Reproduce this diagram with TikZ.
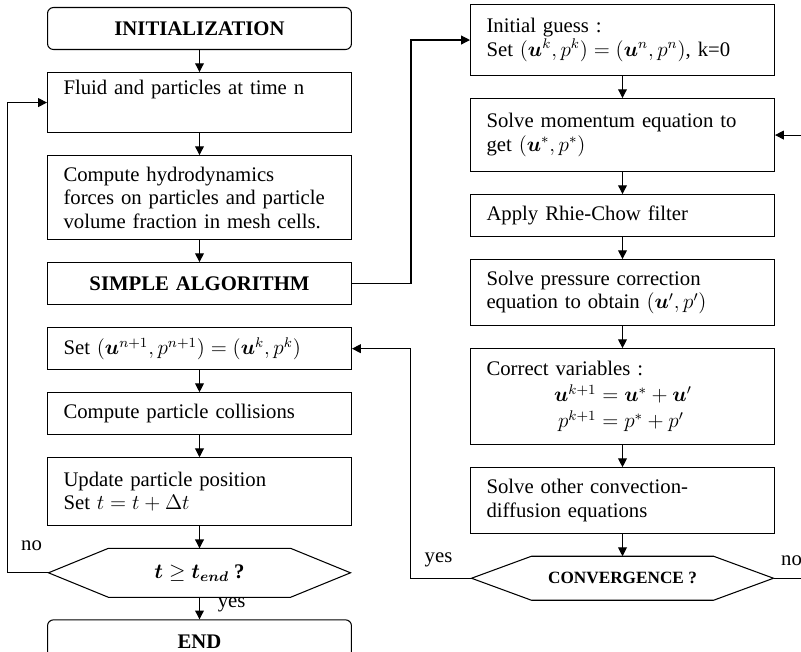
\documentclass[tikz,border=0pt]{standalone}
\usepackage{amsmath}
\usepackage{amssymb}
\usepackage{fontspec}
\setmainfont{Liberation Serif}
\usetikzlibrary{arrows.meta,positioning,calc}
\newcommand{\flowfont}{\fontsize{11.8}{13.4}\selectfont}
\newcommand{\convfont}{\fontsize{9.8}{11}\selectfont\bfseries}
\newcommand{\bu}{\boldsymbol{u}}

\begin{document}
\begin{tikzpicture}[x=0.02cm, y=-0.02cm, node distance=0.44cm, >={Triangle[length=5pt,width=5pt]},
  line width=0.6pt, font=\flowfont,
  procbox/.style={draw, text width=5.44cm, inner xsep=0.32cm, align=left},
  headbox/.style={procbox, align=center, font=\flowfont\bfseries, minimum height=0.84cm},
  termbox/.style={headbox, rounded corners=0.12cm},
  hexnode/.style={minimum width=6.02cm, align=center, font=\flowfont\bfseries}]
  \useasboundingbox (0,0) rectangle (801,652);

  % time loop
  \node[termbox, anchor=north west] (init) at (47,7) {INITIALIZATION};
  \node[procbox, below=of init, minimum height=1.2cm] (fluid) {Fluid and particles at time n\\\strut};
  \node[procbox, below=of fluid, minimum height=1.68cm] (hydro) {Compute hydrodynamics\\forces on particles and particle\\volume fraction in mesh cells.};
  \node[headbox, below=of hydro] (simple) {SIMPLE ALGORITHM};
  \node[procbox, below=of simple, minimum height=0.84cm] (setn) {Set $(\bu^{n+1},p^{n+1})=(\bu^k,p^k)$};
  \node[procbox, below=of setn, minimum height=0.84cm] (coll) {Compute particle collisions};
  \node[procbox, below=of coll, minimum height=1.36cm] (upd) {Update particle position\\Set $t=t+\Delta t$};
  \node[hexnode, below=of upd, minimum height=0.96cm] (tend) {$\boldsymbol{t}\geq\boldsymbol{t_{end}}$ ?};
  \node[termbox, below=of tend, minimum height=0.88cm] (fin) {END};

  % SIMPLE loop
  \node[procbox, anchor=north west, minimum height=1.42cm] (guess) at (470,4) {Initial guess :\\Set $(\bu^k,p^k)=(\bu^n,p^n)$, k=0};
  \node[procbox, below=of guess, minimum height=1.46cm] (mom) {Solve momentum equation to\\get $(\bu^*,p^*)$};
  \node[procbox, below=of mom, minimum height=0.84cm] (rhie) {Apply Rhie-Chow filter};
  \node[procbox, below=of rhie, minimum height=1.32cm] (press) {Solve pressure correction\\equation to obtain $(\bu',p')$};
  \node[procbox, below=of press, minimum height=1.92cm] (corr) {Correct variables :\\[1.5pt]
    \makebox[2.2cm][r]{$\bu^{k+1}$}${}=\bu^*+\bu'$\\[1.5pt]
    \makebox[2.2cm][r]{$p^{k+1}$}${}=p^*+p'$};
  \node[procbox, below=of corr, minimum height=1.32cm] (other) {Solve other convection-\\diffusion equations};
  \node[hexnode, below=of other, minimum height=0.86cm, font=\convfont] (conv) {CONVERGENCE ?};

  \foreach \h in {tend, conv}
    \draw (\h.west) -- ([xshift=1.2cm]\h.north west) -- ([xshift=-1.2cm]\h.north east) -- (\h.east)
      -- ([xshift=-1.2cm]\h.south east) -- ([xshift=1.2cm]\h.south west) -- cycle;

  \coordinate (rimR) at (806,0);

  \draw[->] (init) -- (fluid);
  \draw[->] (fluid) -- (hydro);
  \draw[->] (hydro) -- (simple);
  \draw[->] (setn) -- (coll);
  \draw[->] (coll) -- (upd);
  \draw[->] (upd) -- (tend);
  \draw[->] (tend) -- node[right=0.24cm, yshift=0.06cm] {yes} (fin);
  \draw[->] (tend.west) -- ++(-0.82cm,0) |- (fluid.west);
  \node at ($(tend.west)+(-17,-27)$) {no};

  \draw[->] (simple.east) -- ++(1.18cm,0) |- (guess.west);
  \draw[->] (guess) -- (mom);
  \draw[->] (mom) -- (rhie);
  \draw[->] (rhie) -- (press);
  \draw[->] (press) -- (corr);
  \draw[->] (corr) -- (other);
  \draw[->] (other) -- (conv);
  \draw[->] (conv.west) -- ++(-1.22cm,0) |- (setn.east);
  \node at ($(conv.west)+(-33,-18)$) {yes};
  \draw (conv.east) -- (conv.east -| rimR);
  \node at ($(conv.east)+(18,-18)$) {no};
  \draw[->] (mom.east -| rimR) -- (mom.east);
\end{tikzpicture}
\end{document}
